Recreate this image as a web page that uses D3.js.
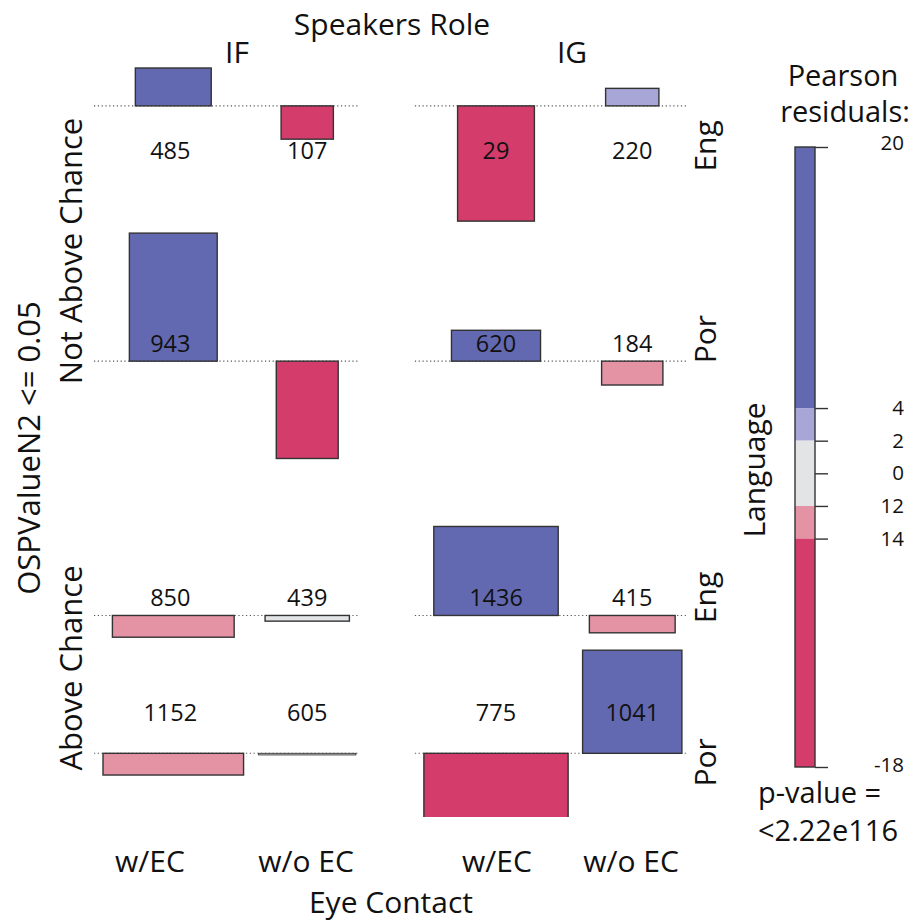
<!DOCTYPE html>
<html>
<head>
<meta charset="utf-8">
<script src="https://cdn.jsdelivr.net/npm/d3@7"></script>
<style>
  html, body { margin: 0; padding: 0; background: #fff; }
  svg { display: block; font-family: "Open Sans", "DejaVu Sans", sans-serif; }
</style>
</head>
<body>
<svg id="chart" width="921" height="922"></svg>
<script>
// ---- data -------------------------------------------------------------
const speakerRoles = ["IF", "IG"];
const eyeContact = ["w/EC", "w/o EC"];
const ospLevels = ["Not Above Chance", "Above Chance"];
const languages = ["Eng", "Por"];

// rows: OSP level x Language; columns: Speakers Role x Eye Contact
const observedNAC_Eng = [485, 107, 29, 220];
const observedNAC_Por = [943, 8, 620, 184];
const observedAC_Eng = [850, 439, 1436, 415];
const observedAC_Por = [1152, 605, 775, 1041];

const expectedNAC_Eng = [371, 176, 380, 183];
const expectedNAC_Por = [497, 247, 511, 242];
const expectedAC_Eng = [955, 458, 997, 474];
const expectedAC_Por = [1273, 610, 1340, 635];

// cells whose count is not printed (row, column)
const unlabeledCells = [[1, 1]];

const legendTicks = [20, 4, 2, 0, -2, -4, -18];
const legendTickLabels = ["20", "4", "2", "0", "12", "14", "-18"];
const legendDomain = [-18, 20];
const pValueText = "<2.22e116";

// ---- derived ----------------------------------------------------------
const observed = [observedNAC_Eng, observedNAC_Por, observedAC_Eng, observedAC_Por];
const expected = [expectedNAC_Eng, expectedNAC_Por, expectedAC_Eng, expectedAC_Por];
const rowLang = [0, 1, 0, 1];

const cells = [];
observed.forEach((row, i) => row.forEach((o, j) => {
  const e = expected[i][j];
  cells.push({ row: i, col: j, o, e, r: (o - e) / Math.sqrt(e),
    labeled: !unlabeledCells.some(([a, b]) => a === i && b === j) });
}));

// ---- scales -----------------------------------------------------------
const residH = d3.scaleLinear().domain([0, 1]).range([0, 6.4]);        // bar height per residual
const widthS = d3.scaleLinear().domain([0, 1]).range([0, 3.94]);       // bar width per sqrt(expected)

const colors = {
  blue: "#6369b1", lightBlue: "#a8a6d6", gray: "#e3e4e5",
  lightRed: "#e393a3", red: "#d43c6b"
};
const fill = d3.scaleThreshold()
  .domain([-4, -2, 2, 4])
  .range([colors.red, colors.lightRed, colors.gray, colors.lightBlue, colors.blue]);

// column widths = widest bar in each column; rows stacked by extent of bars
const nCols = 4, nRows = 4;
const colW = d3.range(nCols).map(j => d3.max(cells.filter(c => c.col === j), c => widthS(Math.sqrt(c.e))));
const colGaps = [15, 68, 14.5];
const colX = [];
let x = 103;
for (let j = 0; j < nCols; j++) { colX.push(x); x += colW[j] + (colGaps[j] || 0); }
const colCenter = colX.map((v, j) => v + colW[j] / 2);

const rowGaps = [12, 68, 13];
const rowBase = [];
let y = 68;
for (let i = 0; i < nRows; i++) {
  const rc = cells.filter(c => c.row === i);
  const up = d3.max(rc, c => Math.max(0, residH(c.r)));
  const down = d3.max(rc, c => Math.max(0, -residH(c.r)));
  rowBase.push(y + up);
  y = y + up + down + (rowGaps[i] || 0);
}

// ---- drawing ----------------------------------------------------------
const svg = d3.select("#chart");
const ink = "#111";
const bigFont = 30;

svg.append("defs").append("clipPath").attr("id", "plotClip")
  .append("rect").attr("x", 0).attr("y", 0).attr("width", 740).attr("height", 817);

const plot = svg.append("g").attr("clip-path", "url(#plotClip)");

// dotted baselines per row and speaker-role group
for (let i = 0; i < nRows; i++) {
  for (let g = 0; g < 2; g++) {
    const left = colX[g * 2] - 9;
    const right = colX[g * 2 + 1] + colW[g * 2 + 1] + 4;
    plot.append("line")
      .attr("x1", left).attr("x2", right)
      .attr("y1", rowBase[i]).attr("y2", rowBase[i])
      .attr("stroke", "#555").attr("stroke-width", 1.1)
      .attr("stroke-dasharray", "1.2,2.6");
  }
}

plot.selectAll("rect.bar").data(cells).join("rect")
  .attr("class", "bar")
  .attr("x", c => colCenter[c.col] - widthS(Math.sqrt(c.e)) / 2)
  .attr("width", c => widthS(Math.sqrt(c.e)))
  .attr("y", c => c.r >= 0 ? rowBase[c.row] - residH(c.r) : rowBase[c.row])
  .attr("height", c => Math.max(1.6, Math.abs(residH(c.r))))
  .attr("fill", c => fill(c.r))
  .attr("stroke", "#333")
  .attr("stroke-width", c => Math.abs(residH(c.r)) < 3 ? 0.9 : 1.4);

// count labels
const countOffset = [44, -18, -18, -41];
svg.selectAll("text.count").data(cells.filter(c => c.labeled)).join("text")
  .attr("class", "count")
  .attr("x", c => colCenter[c.col] - (c.col === 0 ? 3 : 0))
  .attr("y", c => rowBase[c.row] + countOffset[c.row])
  .attr("text-anchor", "middle").attr("dominant-baseline", "central")
  .attr("font-size", 23.5).attr("fill", ink)
  .text(c => c.o);

// top headers
svg.append("text").attr("x", 392).attr("y", 35).attr("text-anchor", "middle")
  .attr("font-size", bigFont).attr("fill", ink).text("Speakers Role");
const roleLabelX = [237, 572];
speakerRoles.forEach((s, g) => {
  svg.append("text").attr("x", roleLabelX[g]).attr("y", 63).attr("text-anchor", "middle")
    .attr("font-size", bigFont).attr("fill", ink).text(s);
});

// bottom headers
const ecLabelX = [150, 306, 497, 631];
ecLabelX.forEach((lx, j) => {
  svg.append("text").attr("x", lx).attr("y", 872).attr("text-anchor", "middle")
    .attr("font-size", bigFont).attr("fill", ink).text(eyeContact[j % 2]);
});
svg.append("text").attr("x", 391).attr("y", 913).attr("text-anchor", "middle")
  .attr("font-size", bigFont).attr("fill", ink).text("Eye Contact");

// rotated headers
function vText(tx, ty, str, size) {
  svg.append("text")
    .attr("transform", `translate(${tx},${ty}) rotate(-90)`)
    .attr("text-anchor", "middle").attr("font-size", size || bigFont).attr("fill", ink)
    .text(str);
}
vText(40, 448, "OSPValueN2 <= 0.05", 31);
const ospLabelY = [251, 668];
ospLevels.forEach((s, k) => vText(82, ospLabelY[k], s, 31));

// right headers: language per row
const langOffset = [40, -22, -18, 9];
rowBase.forEach((b, i) => vText(716, b + langOffset[i], languages[rowLang[i]]));
vText(765, 470, "Language");

// ---- legend -----------------------------------------------------------
const legY = d3.scaleLinear().domain(legendDomain).range([767, 147]);
const legX = 795, legW = 20;
const bands = [[4, 20], [2, 4], [-2, 2], [-4, -2], [-18, -4]];
const leg = svg.append("g");
leg.selectAll("rect.band").data(bands).join("rect")
  .attr("class", "band")
  .attr("x", legX).attr("width", legW)
  .attr("y", d => legY(d[1]))
  .attr("height", d => legY(d[0]) - legY(d[1]))
  .attr("fill", d => fill((d[0] + d[1]) / 2));
leg.append("rect").attr("x", legX).attr("y", legY(20)).attr("width", legW)
  .attr("height", legY(-18) - legY(20)).attr("fill", "none")
  .attr("stroke", "#333").attr("stroke-width", 1.4);

const axis = d3.axisRight(legY).tickValues(legendTicks).tickSize(13)
  .tickFormat((d, i) => legendTickLabels[i]);
const axG = leg.append("g").attr("transform", `translate(${legX + legW},0)`).call(axis);
axG.select(".domain").remove();
axG.selectAll(".tick line").attr("stroke", "#333").attr("stroke-width", 1.4);
axG.selectAll(".tick text")
  .attr("x", 89).attr("text-anchor", "end")
  .attr("dy", d => d === 20 ? "0.1em" : d === -18 ? "0.22em" : "0.32em")
  .attr("font-family", "Open Sans, DejaVu Sans, sans-serif")
  .attr("font-size", 20.5).attr("fill", ink);

svg.append("text").attr("x", 843).attr("y", 86).attr("text-anchor", "middle")
  .attr("font-size", 29).attr("fill", ink).text("Pearson");
svg.append("text").attr("x", 845).attr("y", 122).attr("text-anchor", "middle")
  .attr("font-size", 29).attr("fill", ink).text("residuals:");
svg.append("text").attr("x", 758).attr("y", 803)
  .attr("font-size", 29).attr("fill", ink).text("p-value =");
svg.append("text").attr("x", 758).attr("y", 841)
  .attr("font-size", 29).attr("fill", ink).text(pValueText);
</script>
</body>
</html>
